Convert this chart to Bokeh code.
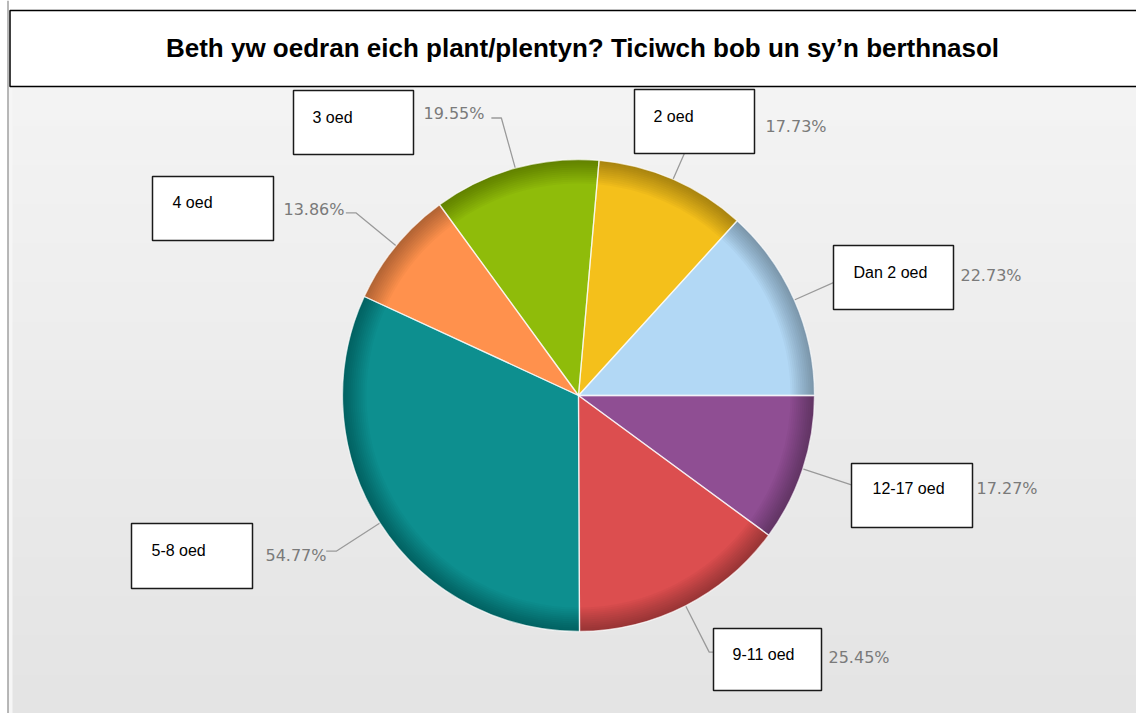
import math
from bokeh.plotting import figure
from bokeh.models import Range1d, ColumnDataSource, BoxAnnotation, Span
from bokeh.embed import file_html
from bokeh.resources import INLINE
from bokeh.core.properties import value

# ---------------- data ----------------
title_text = "Beth yw oedran eich plant/plentyn? Ticiwch bob un sy\u2019n berthnasol"
categories = ["Dan 2 oed", "2  oed", "3 oed", "4 oed", "5-8  oed", "9-11 oed", "12-17 oed"]
percentages = [22.73, 17.73, 19.55, 13.86, 54.77, 25.45, 17.27]
colors = ["#b2d8f5", "#f4c01b", "#8fbc0a", "#ff914d", "#0d8f8f", "#dc4e4f", "#8f4e93"]

# ---------------- layout (reference pixel coordinates) ----------------
W, H = 1136, 713


def px(X):
    return X


def py(Y):
    return H - Y


CX, CY, R = px(578), py(395), 236

# label boxes: left, top, right, bottom
box_ltrb = [(833, 245, 953, 309), (634, 89, 754, 153), (293, 90, 413, 154),
            (152, 176, 273, 240), (131, 523, 252, 588), (713, 628, 821, 690),
            (851, 463, 972, 527)]
# label text position: x, baseline
name_xy = [(853, 272), (653, 116), (312, 117), (172, 202), (151, 550), (732, 654), (872, 488)]
# percentage text: x, middle y, alignment
pct_xy = [(960, 275, "left"), (765, 126, "left"), (484, 113, "right"), (344, 209, "right"),
          (326, 555, "right"), (828, 657, "left"), (976, 488, "left")]

# ---------------- derived angles ----------------
total = sum(percentages)
starts, ends, mids = [], [], []
acc = 0.0
for v in percentages:
    a0 = acc / total * 2 * math.pi
    acc += v
    a1 = acc / total * 2 * math.pi
    starts.append(a0)
    ends.append(a1)
    mids.append((a0 + a1) / 2)

p = figure(width=W, height=H, x_range=Range1d(0, W), y_range=Range1d(0, H),
           output_backend="svg", toolbar_location=None, min_border=0,
           x_axis_location=None, y_axis_location=None,
           background_fill_color="white", border_fill_color="white")
p.grid.visible = False
p.outline_line_color = None

# background gradient
n = 32
y_top, y_bot = 86, H
c0, c1 = (243, 243, 243), (228, 228, 228)
for i in range(n):
    t = i / (n - 1)
    c = tuple(int(round(c0[k] + (c1[k] - c0[k]) * t)) for k in range(3))
    Yt = y_top + (y_bot - y_top) * i / n
    Yb = y_top + (y_bot - y_top) * (i + 1) / n
    p.add_layout(BoxAnnotation(left=8, right=W, top=py(Yt), bottom=py(Yb) - 1,
                               fill_color="#%02x%02x%02x" % c, fill_alpha=1,
                               line_alpha=0, level="underlay"))

# left border
p.add_layout(BoxAnnotation(left=8.5, right=12, top=py(86), bottom=0, fill_color="#f6f6f6",
                           fill_alpha=1, line_alpha=0, level="underlay"))
p.add_layout(Span(location=7.5, dimension="height", line_color="#a0a0a0", line_width=1.5))

# title box
p.quad(left=[px(9.5)], right=[px(1150)], top=[py(10)], bottom=[py(86)],
       fill_color="white", line_color="black", line_width=1.5)
p.text(x=[px(582)], y=[py(47)], text=[title_text], text_align="center",
       text_baseline="alphabetic", text_font=value("Liberation Sans"),
       text_font_style="bold", text_font_size="26px", text_color="black")

# leader lines
lx, ly = [], []
for m in mids:
    x1, y1 = CX + R * math.cos(m), CY + R * math.sin(m)
    x2, y2 = CX + (R + 52) * math.cos(m), CY + (R + 52) * math.sin(m)
    side = 1 if math.cos(m) >= 0 else -1
    lx.append([x1, x2, x2 + side * 10])
    ly.append([y1, y2, y2])
p.multi_line(xs=lx, ys=ly, line_color="#9a9a9a", line_width=1.3)

# pie
src = ColumnDataSource(dict(start=starts, end=ends, color=colors, cat=categories, pct=percentages))
p.wedge(x=CX, y=CY, radius=R, start_angle="start", end_angle="end", fill_color="color",
        line_color=None, source=src)
for k in range(1, 13):
    p.annular_wedge(x=CX, y=CY, inner_radius=R - 2 * k, outer_radius=R,
                    start_angle="start", end_angle="end", fill_color="black",
                    fill_alpha=0.028, line_color=None, source=src)
p.wedge(x=CX, y=CY, radius=R, start_angle="start", end_angle="end", fill_color=None,
        line_color="white", line_alpha=0.65, line_width=1.3, source=src)

# percentage labels
pct_src = ColumnDataSource(dict(
    x=[px(a[0]) for a in pct_xy], y=[py(a[1]) for a in pct_xy],
    align=[a[2] for a in pct_xy], txt=["%.2f%%" % v for v in percentages]))
p.text(x="x", y="y", text="txt", text_align="align", text_baseline="middle",
       text_font=value("DejaVu Sans"), text_font_size="16px", text_color="#7a7a7a",
       source=pct_src)

# label boxes
p.quad(left=[px(b[0]) for b in box_ltrb], right=[px(b[2]) for b in box_ltrb],
       top=[py(b[1]) for b in box_ltrb], bottom=[py(b[3]) for b in box_ltrb],
       fill_color="white", line_color="#1a1a1a", line_width=1.5)
name_src = ColumnDataSource(dict(x=[px(a[0]) for a in name_xy], y=[py(a[1]) for a in name_xy],
                                 txt=categories))
p.text(x="x", y="y", text="txt", text_align="left", text_baseline="alphabetic",
       text_font=value("Liberation Sans"), text_font_size="16px", text_color="black",
       source=name_src)

open("out.html", "w").write(file_html(p, INLINE))
